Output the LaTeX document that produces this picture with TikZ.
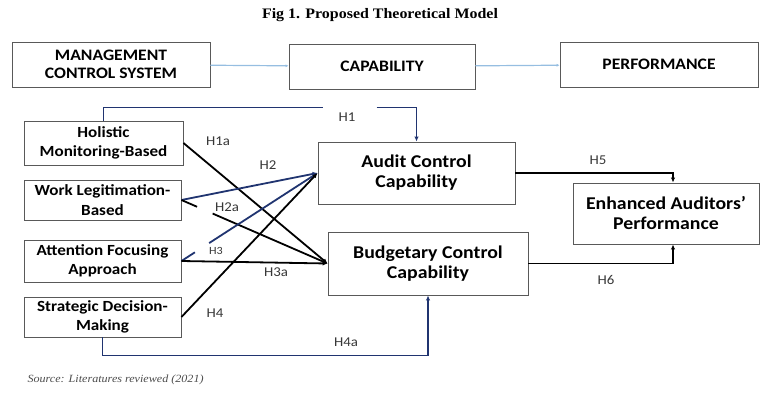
\documentclass[tikz,border=0pt]{standalone}
\usepackage{fontspec}
\setmainfont[FakeStretch=1.1]{Carlito}
\newfontfamily\serifttl[FakeStretch=1.1]{Liberation Serif}
\usetikzlibrary{arrows.meta}
\definecolor{navy}{RGB}{32,52,112}
\definecolor{skyln}{RGB}{150,190,225}
\definecolor{lblgray}{RGB}{55,55,55}
\tikzset{
  box/.style={draw=black!65,line width=0.9pt,align=center,font=\bfseries\fontsize{15.5}{19.5}\selectfont,inner sep=2pt},
  topbox/.style={box,font=\bfseries\fontsize{16}{18}\selectfont},
  bigbox/.style={box,font=\bfseries\fontsize{18}{20}\selectfont},
  hyp/.style={font=\fontsize{13.5}{15}\selectfont,text=lblgray},
  link/.style={line width=1.8pt,-{Latex[length=5pt,width=4.5pt]}},
}
\begin{document}
\begin{tikzpicture}[x=1pt,y=-1pt]
\useasboundingbox (0,0) rectangle (760,401);
\node[font=\serifttl\bfseries\fontsize{14.5}{16}\selectfont] (ttl) at (380,15) {Fig 1. Proposed Theoretical Model};
% top row
\node[topbox,minimum width=198pt,minimum height=45pt] (mcs) at (111,64.5) {MANAGEMENT\\CONTROL SYSTEM};
\node[topbox,minimum width=186pt,minimum height=45pt] (cap) at (382,66.5) {CAPABILITY};
\node[topbox,minimum width=198pt,minimum height=45pt] (perf) at (659,64.5) {PERFORMANCE};
\draw[skyln,line width=1.2pt,-{Latex[length=3pt,width=3pt]}] (mcs) -- (cap);
\draw[skyln,line width=1.2pt,-{Latex[length=3pt,width=3pt]}] (cap) -- (perf);
% left column
\node[box,minimum width=159pt,minimum height=44pt] (hol) at (103.5,143) {Holistic\\Monitoring-Based};
\node[box,minimum width=157pt,minimum height=40pt] (wlb) at (102.5,200) {Work Legitimation-\\Based};
\node[box,minimum width=157pt,minimum height=42pt] (afa) at (102.5,261) {Attention Focusing\\Approach};
\node[box,minimum width=157pt,minimum height=40pt] (sdm) at (102.5,317) {Strategic Decision-\\Making};
% capabilities and outcome
\node[bigbox,minimum width=197pt,minimum height=62pt] (aud) at (416.5,173) {Audit Control\\Capability};
\node[bigbox,minimum width=200pt,minimum height=63pt] (bud) at (428,263.5) {Budgetary Control\\Capability};
\node[bigbox,minimum width=186pt,minimum height=61pt] (enh) at (666,213.5) {Enhanced Auditors'\\Performance};
% hypotheses
\draw[link,navy,dash pattern=on 232pt off 54pt on 400pt] (hol.north) -- ++(0,-13) -| (aud.north);
\draw[link,navy] (sdm.south) -- ++(0,18) -| (bud.south);
\draw[link] (hol.east) -- (bud.west);
\draw[link,navy] (wlb.east) -- (aud.west);
\draw[link,dash pattern=on 17pt off 17pt on 300pt] (wlb.east) -- (bud.west);
\draw[link,navy,dash pattern=on 16pt off 17pt on 300pt] (afa.east) -- (aud.west);
\draw[link] (afa.east) -- (bud.west);
\draw[link] (sdm.east) -- (aud.west);
\draw[link] (aud.east) -| ([xshift=7pt]enh.north);
\draw[link] (bud.east) -| ([xshift=7pt]enh.south);
\node[hyp] (h1) at (347,117) {H1};
\node[hyp] (h1a) at (218,141) {H1a};
\node[hyp] (h2) at (268,165) {H2};
\node[hyp] (h2a) at (227,207) {H2a};
\node[hyp,font=\fontsize{11}{12}\selectfont] (h3) at (216,251) {H3};
\node[hyp] (h3a) at (276,272) {H3a};
\node[hyp] (h4) at (215,313) {H4};
\node[hyp] (h4a) at (346,342) {H4a};
\node[hyp] (h5) at (598,160) {H5};
\node[hyp] (h6) at (606,280) {H6};
% source
\node[anchor=west,text=black!70,font=\serifttl\itshape\fontsize{11}{12}\selectfont] (src) at (24,380) {Source: Literatures reviewed (2021)};
\end{tikzpicture}
\end{document}
